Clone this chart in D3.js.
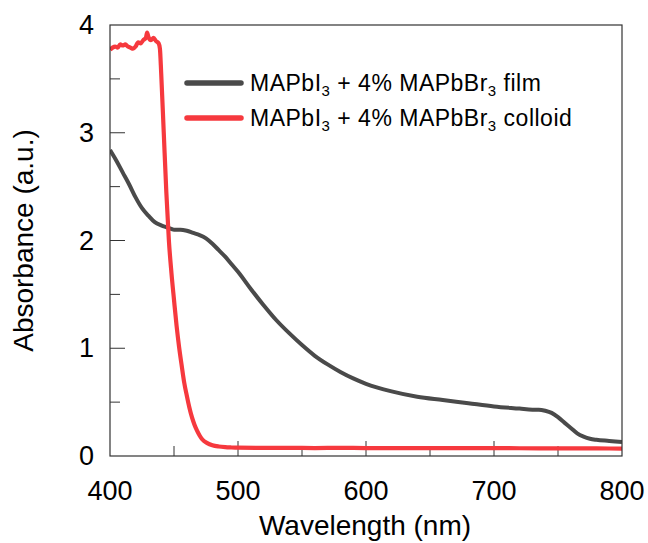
<!DOCTYPE html>
<html>
<head>
<meta charset="utf-8">
<script src="https://cdn.jsdelivr.net/npm/d3@7"></script>
<style>
  body { margin: 0; background: #fff; }
  svg { display: block; font-family: "Liberation Sans", Arial, Helvetica, sans-serif; }
</style>
</head>
<body>
<svg width="648" height="543"></svg>
<script>
// film spectrum (wavelength nm, absorbance)
var filmWl  = [400, 405, 410, 415, 420, 425, 430, 435, 440, 445, 450, 455, 460, 465, 470, 475, 480, 485, 490, 495, 500, 510, 520, 530, 540, 550, 560, 570, 580, 590, 600, 620, 640, 660, 680, 700, 720, 730, 735, 740, 745, 750, 755, 760, 765, 770, 775, 780, 790, 800];
var filmAbs = [2.84, 2.74, 2.63, 2.52, 2.40, 2.30, 2.23, 2.17, 2.14, 2.12, 2.10, 2.10, 2.09, 2.07, 2.05, 2.02, 1.97, 1.91, 1.85, 1.78, 1.71, 1.55, 1.40, 1.26, 1.14, 1.03, 0.93, 0.85, 0.78, 0.72, 0.67, 0.60, 0.55, 0.52, 0.49, 0.46, 0.44, 0.43, 0.43, 0.42, 0.40, 0.36, 0.31, 0.26, 0.21, 0.18, 0.16, 0.15, 0.14, 0.13];

// colloid spectrum
var colWl  = [400, 402, 404, 406, 408, 410, 412, 414, 416, 418, 420, 422, 424, 426, 428, 429, 430, 432, 434, 436, 438, 439, 440, 442, 444, 446, 448, 450, 452, 454, 456, 458, 460, 462, 464, 466, 468, 470, 472, 476, 480, 485, 490, 495, 500, 520, 540, 560, 580, 600, 630, 660, 690, 720, 750, 780, 800];
var colAbs = [3.77, 3.79, 3.80, 3.79, 3.82, 3.81, 3.82, 3.80, 3.79, 3.78, 3.80, 3.84, 3.83, 3.86, 3.88, 3.93, 3.89, 3.86, 3.88, 3.85, 3.83, 3.78, 3.55, 3.00, 2.45, 2.00, 1.70, 1.45, 1.21, 1.01, 0.84, 0.68, 0.56, 0.45, 0.36, 0.29, 0.235, 0.19, 0.155, 0.12, 0.10, 0.088, 0.082, 0.079, 0.077, 0.075, 0.076, 0.074, 0.075, 0.074, 0.074, 0.073, 0.073, 0.072, 0.071, 0.070, 0.069];

var xTicks = [400, 500, 600, 700, 800];
var yTicks = [0, 1, 2, 3, 4];

var svg = d3.select("svg"),
    margin = {top: 25, right: 26, bottom: 87, left: 110},
    width = 648 - margin.left - margin.right,
    height = 543 - margin.top - margin.bottom;

var x = d3.scaleLinear().domain([400, 800]).range([0, width]);
var y = d3.scaleLinear().domain([0, 4]).range([height, 0]);

var g = svg.append("g")
    .attr("transform", "translate(" + margin.left + "," + margin.top + ")");

var axisColor = "#333";

// minor ticks (inward)
var xMinor = d3.range(450, 800, 100);
var yMinor = d3.range(0.5, 4, 1);

g.selectAll(".xmaj").data(xTicks.slice(1, -1)).enter().append("line")
    .attr("x1", function (d) { return x(d); })
    .attr("x2", function (d) { return x(d); })
    .attr("y1", height).attr("y2", height - 15)
    .attr("stroke", axisColor).attr("stroke-width", 1);
g.selectAll(".xmin").data(xMinor).enter().append("line")
    .attr("x1", function (d) { return x(d); })
    .attr("x2", function (d) { return x(d); })
    .attr("y1", height).attr("y2", height - 10)
    .attr("stroke", axisColor).attr("stroke-width", 1);
g.selectAll(".ymaj").data(yTicks.slice(1, -1)).enter().append("line")
    .attr("y1", function (d) { return y(d); })
    .attr("y2", function (d) { return y(d); })
    .attr("x1", 0).attr("x2", 15)
    .attr("stroke", axisColor).attr("stroke-width", 1);
g.selectAll(".ymin").data(yMinor).enter().append("line")
    .attr("y1", function (d) { return y(d); })
    .attr("y2", function (d) { return y(d); })
    .attr("x1", 0).attr("x2", 10)
    .attr("stroke", axisColor).attr("stroke-width", 1);

// tick labels
g.selectAll(".xlab").data(xTicks).enter().append("text")
    .attr("x", function (d) { return x(d); })
    .attr("y", height + 44)
    .attr("text-anchor", "middle")
    .attr("font-size", 27)
    .attr("fill", "#000")
    .text(function (d) { return d; });
g.selectAll(".ylab").data(yTicks).enter().append("text")
    .attr("x", -16)
    .attr("y", function (d) { return y(d) + 9; })
    .attr("text-anchor", "end")
    .attr("font-size", 27)
    .attr("fill", "#000")
    .text(function (d) { return d; });

// axis titles
svg.append("text")
    .attr("x", margin.left + width / 2 - 1)
    .attr("y", 535)
    .attr("text-anchor", "middle")
    .attr("font-size", 28)
    .text("Wavelength (nm)");
svg.append("text")
    .attr("transform", "translate(33," + (margin.top + height / 2) + ") rotate(-90)")
    .attr("text-anchor", "middle")
    .attr("font-size", 28)
    .text("Absorbance (a.u.)");

// curves
var line = d3.line()
    .x(function (d) { return x(d[0]); })
    .y(function (d) { return y(d[1]); })
    .curve(d3.curveMonotoneX);

var filmData = filmWl.map(function (w, i) { return [w, filmAbs[i]]; });
var colData = colWl.map(function (w, i) { return [w, colAbs[i]]; });

g.append("clipPath").attr("id", "clip").append("rect")
    .attr("width", width).attr("height", height);

g.append("path").datum(filmData)
    .attr("clip-path", "url(#clip)")
    .attr("fill", "none").attr("stroke", "#4a4a4a")
    .attr("stroke-width", 4).attr("stroke-linejoin", "round")
    .attr("d", line);
g.append("path").datum(colData)
    .attr("clip-path", "url(#clip)")
    .attr("fill", "none").attr("stroke", "#f6393e")
    .attr("stroke-width", 4.2).attr("stroke-linejoin", "round")
    .attr("d", line);

// frame
g.append("rect")
    .attr("width", width).attr("height", height)
    .attr("fill", "none").attr("stroke", axisColor).attr("stroke-width", 1.2);

// legend
var legend = [
    {color: "#4a4a4a", tail: " film"},
    {color: "#f6393e", tail: " colloid"}
];
var lg = svg.selectAll(".leg").data(legend).enter().append("g")
    .attr("transform", function (d, i) { return "translate(0," + (83 + i * 35) + ")"; });
lg.append("line")
    .attr("x1", 187).attr("x2", 241)
    .attr("stroke", function (d) { return d.color; })
    .attr("stroke-width", 5.5)
    .attr("stroke-linecap", "round");
var t = lg.append("text")
    .attr("x", 250).attr("y", 8)
    .attr("font-size", 23)
    .attr("letter-spacing", 0.5);
t.append("tspan").text("MAPbI");
t.append("tspan").attr("font-size", 15).attr("dy", 5).text("3");
t.append("tspan").attr("dy", -5).text(" + 4% MAPbBr");
t.append("tspan").attr("font-size", 15).attr("dy", 5).text("3");
t.append("tspan").attr("dy", -5).text(function (d) { return d.tail; });
</script>
</body>
</html>
